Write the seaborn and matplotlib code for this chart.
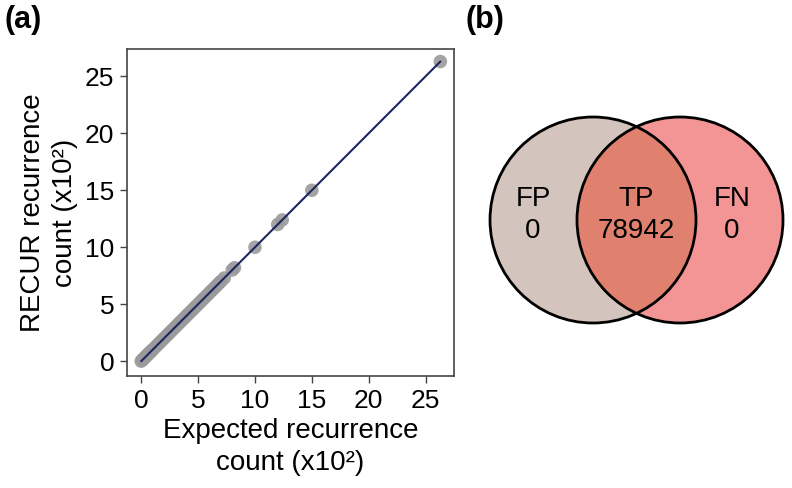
import numpy as np
import pandas as pd
import seaborn as sns
import matplotlib.pyplot as plt
from matplotlib.patches import Circle

# recurrence counts (x10^2), expected vs RECUR (identical)
expected = [0.0, 0.1, 0.2, 0.3, 0.4, 0.5, 0.6, 0.7, 0.8, 0.9, 1.0, 1.2, 1.4, 1.6,
            1.8, 2.0, 2.2, 2.4, 2.6, 2.8, 3.0, 3.2, 3.4, 3.6, 3.8, 4.0, 4.2, 4.4,
            4.6, 4.8, 5.0, 5.2, 5.4, 5.6, 5.8, 6.0, 6.2, 6.4, 6.6, 6.8, 7.0, 7.3,
            8.0, 8.2, 10.0, 12.0, 12.4, 15.0, 26.3]
recur = [0.0, 0.1, 0.2, 0.3, 0.4, 0.5, 0.6, 0.7, 0.8, 0.9, 1.0, 1.2, 1.4, 1.6,
         1.8, 2.0, 2.2, 2.4, 2.6, 2.8, 3.0, 3.2, 3.4, 3.6, 3.8, 4.0, 4.2, 4.4,
         4.6, 4.8, 5.0, 5.2, 5.4, 5.6, 5.8, 6.0, 6.2, 6.4, 6.6, 6.8, 7.0, 7.3,
         8.0, 8.2, 10.0, 12.0, 12.4, 15.0, 26.3]
fit_x = [0.0, 26.3]
fit_y = [0.0, 26.3]
ticks = [0, 5, 10, 15, 20, 25]

venn_labels = ["FP", "TP", "FN"]
venn_counts = [0, 78942, 0]

sns.set_style("white")
plt.rcParams['font.family'] = ['Liberation Sans', 'DejaVu Sans']
plt.rcParams['text.color'] = 'black'
plt.rcParams['axes.labelcolor'] = 'black'
plt.rcParams['xtick.color'] = 'black'
plt.rcParams['ytick.color'] = 'black'

df = pd.DataFrame({"expected": expected, "recur": recur})
fit = pd.DataFrame({"x": fit_x, "y": fit_y})

fig = plt.figure(figsize=(7.92, 4.88), dpi=100)
ax = fig.add_axes([127/792, 1 - 376/488, 327/792, 327/488])
sns.scatterplot(data=df, x="expected", y="recur", ax=ax, s=95, color="#9a9a9a",
                edgecolor="none", alpha=0.9, zorder=2)
sns.lineplot(data=fit, x="x", y="y", ax=ax, color="#1c2660", lw=1.5, zorder=3)
ax.set_xlim(-1.25, 27.5)
ax.set_ylim(-1.3, 27.4)
ax.set_xticks(ticks)
ax.set_yticks(ticks)
ax.tick_params(labelsize=19, length=5, width=1, pad=4,
               left=True, bottom=True)
ax.tick_params(colors="#444444", labelcolor="black")
for sp in ax.spines.values():
    sp.set_color("#444444")
    sp.set_linewidth(1.2)
ax.set_xlabel("Expected recurrence\ncount (x10²)", fontsize=20, linespacing=1.3,
              labelpad=4)
ax.set_ylabel("RECUR recurrence\ncount (x10²)", fontsize=20, linespacing=1.3,
              labelpad=5)

# venn panel, pixel-like coordinates
vx = fig.add_axes([470/792, 1 - 340/488, 322/792, 240/488])
vx.set_xlim(470, 792)
vx.set_ylim(340, 100)
vx.axis("off")
r = 103
cl = (593, 220)
cr = (680, 220)
vx.add_patch(Circle(cl, r, facecolor="#d3c5bd", edgecolor="none"))
vx.add_patch(Circle(cr, r, facecolor="#f29594", edgecolor="none"))
lens = Circle(cr, r, facecolor="#e0806f", edgecolor="none")
vx.add_patch(lens)
lens.set_clip_path(Circle(cl, r, transform=vx.transData))
vx.add_patch(Circle(cl, r, facecolor="none", edgecolor="black", lw=2))
vx.add_patch(Circle(cr, r, facecolor="none", edgecolor="black", lw=2))
pos = [(533, 215), (636, 215), (732, 215)]
for (px, py), lab, cnt in zip(pos, venn_labels, venn_counts):
    vx.text(px, py, f"{lab}\n{cnt}", ha="center", va="center", fontsize=20,
            linespacing=1.3)

fig.text(5/792, 1 - 20/488, "(a)", fontsize=22, fontweight="bold", va="center")
fig.text(466/792, 1 - 20/488, "(b)", fontsize=22, fontweight="bold", va="center")

fig.savefig("out.png", dpi=100)
